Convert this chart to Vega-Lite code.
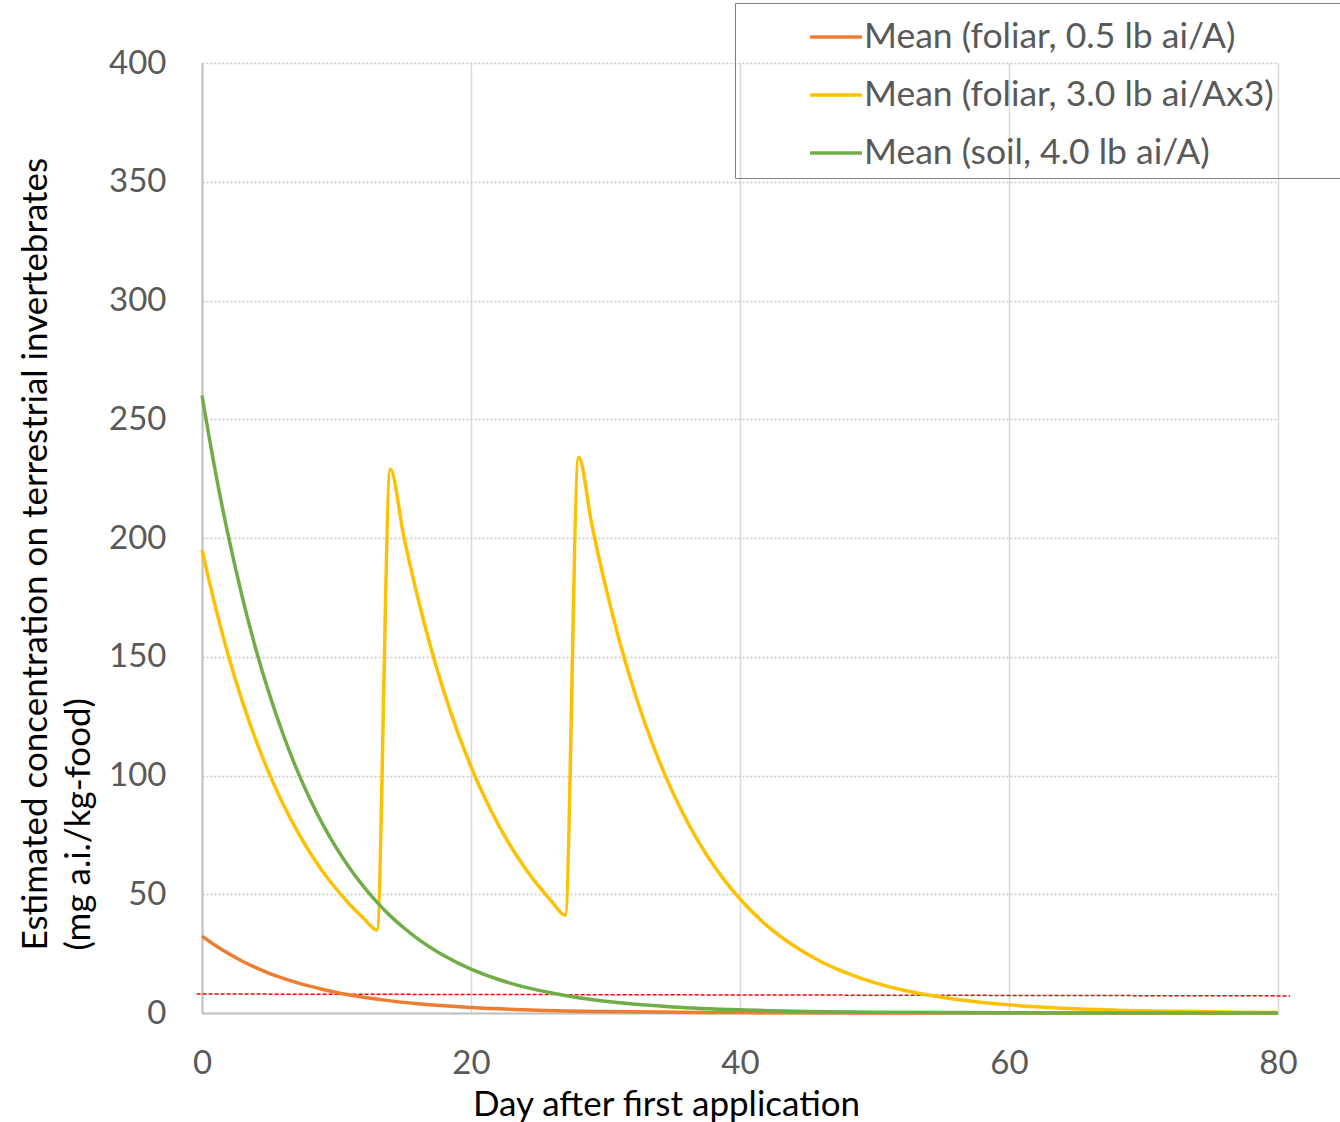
{
"$schema":"https://vega.github.io/schema/vega-lite/v6.json",
"width":1076,"height":950,
"autosize":{"type":"none"},
"padding":{"left":202,"top":63,"right":62,"bottom":109},
"background":"white",
"config":{"view":{"stroke":null},"font":"Lato"},
"datasets":{
"threshold":[{"day":-0.4,"value":8.0},{"day":80.9,"value":7.2}],
"series":[
{"s":"Mean (foliar, 0.5 lb ai/A)","day":0,"value":32.4},{"s":"Mean (foliar, 0.5 lb ai/A)","day":1,"value":28.4},{"s":"Mean (foliar, 0.5 lb ai/A)","day":2,"value":24.9},{"s":"Mean (foliar, 0.5 lb ai/A)","day":3,"value":21.8},{"s":"Mean (foliar, 0.5 lb ai/A)","day":4,"value":19.1},{"s":"Mean (foliar, 0.5 lb ai/A)","day":5,"value":16.7},{"s":"Mean (foliar, 0.5 lb ai/A)","day":6,"value":14.7},{"s":"Mean (foliar, 0.5 lb ai/A)","day":7,"value":12.9},{"s":"Mean (foliar, 0.5 lb ai/A)","day":8,"value":11.3},{"s":"Mean (foliar, 0.5 lb ai/A)","day":9,"value":9.9},{"s":"Mean (foliar, 0.5 lb ai/A)","day":10,"value":8.65},{"s":"Mean (foliar, 0.5 lb ai/A)","day":12,"value":6.64},{"s":"Mean (foliar, 0.5 lb ai/A)","day":14,"value":5.1},{"s":"Mean (foliar, 0.5 lb ai/A)","day":16,"value":3.92},{"s":"Mean (foliar, 0.5 lb ai/A)","day":18,"value":3.01},{"s":"Mean (foliar, 0.5 lb ai/A)","day":20,"value":2.31},{"s":"Mean (foliar, 0.5 lb ai/A)","day":25,"value":1.19},{"s":"Mean (foliar, 0.5 lb ai/A)","day":30,"value":0.62},{"s":"Mean (foliar, 0.5 lb ai/A)","day":35,"value":0.32},{"s":"Mean (foliar, 0.5 lb ai/A)","day":40,"value":0.16},{"s":"Mean (foliar, 0.5 lb ai/A)","day":50,"value":0.04},{"s":"Mean (foliar, 0.5 lb ai/A)","day":60,"value":0.01},{"s":"Mean (foliar, 0.5 lb ai/A)","day":80,"value":0},
{"s":"Mean (foliar, 3.0 lb ai/Ax3)","day":0,"value":195},{"s":"Mean (foliar, 3.0 lb ai/Ax3)","day":1,"value":170.9},{"s":"Mean (foliar, 3.0 lb ai/Ax3)","day":2,"value":149.7},{"s":"Mean (foliar, 3.0 lb ai/Ax3)","day":3,"value":131.2},{"s":"Mean (foliar, 3.0 lb ai/Ax3)","day":4,"value":115.0},{"s":"Mean (foliar, 3.0 lb ai/Ax3)","day":5,"value":100.8},{"s":"Mean (foliar, 3.0 lb ai/Ax3)","day":6,"value":88.3},{"s":"Mean (foliar, 3.0 lb ai/Ax3)","day":7,"value":77.4},{"s":"Mean (foliar, 3.0 lb ai/Ax3)","day":8,"value":67.8},{"s":"Mean (foliar, 3.0 lb ai/Ax3)","day":9,"value":59.4},{"s":"Mean (foliar, 3.0 lb ai/Ax3)","day":10,"value":52.1},{"s":"Mean (foliar, 3.0 lb ai/Ax3)","day":11,"value":45.6},{"s":"Mean (foliar, 3.0 lb ai/Ax3)","day":12,"value":40.0},{"s":"Mean (foliar, 3.0 lb ai/Ax3)","day":13,"value":35.0},{"s":"Mean (foliar, 3.0 lb ai/Ax3)","day":14,"value":229},{"s":"Mean (foliar, 3.0 lb ai/Ax3)","day":15,"value":200.7},{"s":"Mean (foliar, 3.0 lb ai/Ax3)","day":16,"value":175.9},{"s":"Mean (foliar, 3.0 lb ai/Ax3)","day":17,"value":154.1},{"s":"Mean (foliar, 3.0 lb ai/Ax3)","day":18,"value":135.1},{"s":"Mean (foliar, 3.0 lb ai/Ax3)","day":19,"value":118.4},{"s":"Mean (foliar, 3.0 lb ai/Ax3)","day":20,"value":103.7},{"s":"Mean (foliar, 3.0 lb ai/Ax3)","day":21,"value":90.9},{"s":"Mean (foliar, 3.0 lb ai/Ax3)","day":22,"value":79.6},{"s":"Mean (foliar, 3.0 lb ai/Ax3)","day":23,"value":69.8},{"s":"Mean (foliar, 3.0 lb ai/Ax3)","day":24,"value":61.2},{"s":"Mean (foliar, 3.0 lb ai/Ax3)","day":25,"value":53.6},{"s":"Mean (foliar, 3.0 lb ai/Ax3)","day":26,"value":47.0},{"s":"Mean (foliar, 3.0 lb ai/Ax3)","day":27,"value":41.2},{"s":"Mean (foliar, 3.0 lb ai/Ax3)","day":28,"value":234},{"s":"Mean (foliar, 3.0 lb ai/Ax3)","day":29,"value":205.1},{"s":"Mean (foliar, 3.0 lb ai/Ax3)","day":30,"value":179.7},{"s":"Mean (foliar, 3.0 lb ai/Ax3)","day":31,"value":157.5},{"s":"Mean (foliar, 3.0 lb ai/Ax3)","day":32,"value":138.0},{"s":"Mean (foliar, 3.0 lb ai/Ax3)","day":33,"value":120.9},{"s":"Mean (foliar, 3.0 lb ai/Ax3)","day":34,"value":106.0},{"s":"Mean (foliar, 3.0 lb ai/Ax3)","day":35,"value":92.9},{"s":"Mean (foliar, 3.0 lb ai/Ax3)","day":36,"value":81.4},{"s":"Mean (foliar, 3.0 lb ai/Ax3)","day":37,"value":71.3},{"s":"Mean (foliar, 3.0 lb ai/Ax3)","day":38,"value":62.5},{"s":"Mean (foliar, 3.0 lb ai/Ax3)","day":39,"value":54.8},{"s":"Mean (foliar, 3.0 lb ai/Ax3)","day":40,"value":48.0},{"s":"Mean (foliar, 3.0 lb ai/Ax3)","day":42,"value":36.8},{"s":"Mean (foliar, 3.0 lb ai/Ax3)","day":44,"value":28.3},{"s":"Mean (foliar, 3.0 lb ai/Ax3)","day":46,"value":21.7},{"s":"Mean (foliar, 3.0 lb ai/Ax3)","day":48,"value":16.7},{"s":"Mean (foliar, 3.0 lb ai/Ax3)","day":50,"value":12.8},{"s":"Mean (foliar, 3.0 lb ai/Ax3)","day":52,"value":9.8},{"s":"Mean (foliar, 3.0 lb ai/Ax3)","day":54,"value":7.55},{"s":"Mean (foliar, 3.0 lb ai/Ax3)","day":56,"value":5.8},{"s":"Mean (foliar, 3.0 lb ai/Ax3)","day":58,"value":4.45},{"s":"Mean (foliar, 3.0 lb ai/Ax3)","day":60,"value":3.42},{"s":"Mean (foliar, 3.0 lb ai/Ax3)","day":62,"value":2.62},{"s":"Mean (foliar, 3.0 lb ai/Ax3)","day":64,"value":2.01},{"s":"Mean (foliar, 3.0 lb ai/Ax3)","day":66,"value":1.55},{"s":"Mean (foliar, 3.0 lb ai/Ax3)","day":68,"value":1.19},{"s":"Mean (foliar, 3.0 lb ai/Ax3)","day":70,"value":0.91},{"s":"Mean (foliar, 3.0 lb ai/Ax3)","day":72,"value":0.7},{"s":"Mean (foliar, 3.0 lb ai/Ax3)","day":76,"value":0.41},{"s":"Mean (foliar, 3.0 lb ai/Ax3)","day":80,"value":0.24},
{"s":"Mean (soil, 4.0 lb ai/A)","day":0,"value":260},{"s":"Mean (soil, 4.0 lb ai/A)","day":1,"value":227.8},{"s":"Mean (soil, 4.0 lb ai/A)","day":2,"value":199.7},{"s":"Mean (soil, 4.0 lb ai/A)","day":3,"value":175.0},{"s":"Mean (soil, 4.0 lb ai/A)","day":4,"value":153.3},{"s":"Mean (soil, 4.0 lb ai/A)","day":5,"value":134.4},{"s":"Mean (soil, 4.0 lb ai/A)","day":6,"value":117.8},{"s":"Mean (soil, 4.0 lb ai/A)","day":7,"value":103.2},{"s":"Mean (soil, 4.0 lb ai/A)","day":8,"value":90.4},{"s":"Mean (soil, 4.0 lb ai/A)","day":9,"value":79.2},{"s":"Mean (soil, 4.0 lb ai/A)","day":10,"value":69.4},{"s":"Mean (soil, 4.0 lb ai/A)","day":11,"value":60.8},{"s":"Mean (soil, 4.0 lb ai/A)","day":12,"value":53.3},{"s":"Mean (soil, 4.0 lb ai/A)","day":13,"value":46.7},{"s":"Mean (soil, 4.0 lb ai/A)","day":14,"value":40.9},{"s":"Mean (soil, 4.0 lb ai/A)","day":15,"value":35.9},{"s":"Mean (soil, 4.0 lb ai/A)","day":16,"value":31.4},{"s":"Mean (soil, 4.0 lb ai/A)","day":18,"value":24.1},{"s":"Mean (soil, 4.0 lb ai/A)","day":20,"value":18.5},{"s":"Mean (soil, 4.0 lb ai/A)","day":22,"value":14.2},{"s":"Mean (soil, 4.0 lb ai/A)","day":24,"value":10.9},{"s":"Mean (soil, 4.0 lb ai/A)","day":26,"value":8.4},{"s":"Mean (soil, 4.0 lb ai/A)","day":28,"value":6.4},{"s":"Mean (soil, 4.0 lb ai/A)","day":30,"value":4.95},{"s":"Mean (soil, 4.0 lb ai/A)","day":35,"value":2.56},{"s":"Mean (soil, 4.0 lb ai/A)","day":40,"value":1.32},{"s":"Mean (soil, 4.0 lb ai/A)","day":45,"value":0.68},{"s":"Mean (soil, 4.0 lb ai/A)","day":50,"value":0.35},{"s":"Mean (soil, 4.0 lb ai/A)","day":60,"value":0.09},{"s":"Mean (soil, 4.0 lb ai/A)","day":70,"value":0.02},{"s":"Mean (soil, 4.0 lb ai/A)","day":80,"value":0}
]},
"encoding":{
"x":{"field":"day","type":"quantitative","scale":{"domain":[0,80],"nice":false,"zero":false},
"axis":{"title":"Day after first application","values":[0,20,40,60,80],"grid":true,"gridColor":"#d9d9d9","gridWidth":1.5,"domainColor":"#bfbfbf","domainWidth":2,"ticks":false,"labelFlush":false,"labelPadding":34,"labelFontSize":33,"labelColor":"#595959","labelFont":"Lato","titleFont":"Lato","titleFontSize":35,"titleColor":"#000000","titleFontWeight":"normal","titleX":464,"titleY":91,"titleBaseline":"middle","titleAlign":"center"}},
"y":{"field":"value","type":"quantitative","scale":{"domain":[0,400],"nice":false},
"axis":{"title":["Estimated concentration on terrestrial invertebrates","(mg a.i./kg-food)"],"values":[0,50,100,150,200,250,300,350,400],"grid":true,"gridDash":[2,2],"gridColor":"#c8c8c8","gridWidth":1.3,"domainColor":"#bfbfbf","domainWidth":2,"ticks":false,"labelFlush":false,"labelPadding":36,"labelFontSize":33,"labelColor":"#595959","labelFont":"Lato","titleFont":"Lato","titleFontSize":35,"titleColor":"#000000","titleFontWeight":"normal","titleAngle":-90,"titleAlign":"left","titleBaseline":"middle","titleX":-166.5,"titleY":887,"titleLineHeight":43}}
},
"layer":[
{"data":{"name":"threshold"},"mark":{"type":"line","color":"#ff0000","strokeWidth":1.5,"strokeDash":[4,2],"clip":false}},
{"data":{"name":"series"},"mark":{"type":"line","strokeWidth":3.5,"interpolate":"monotone"},
"encoding":{"color":{"field":"s","type":"nominal","sort":null,
"scale":{"domain":["Mean (foliar, 0.5 lb ai/A)","Mean (foliar, 3.0 lb ai/Ax3)","Mean (soil, 4.0 lb ai/A)"],"range":["#ED7D31","#FFC000","#70AD47"]},
"legend":{"orient":"none","legendX":533,"legendY":-60,"title":null,"strokeColor":"#7f7f7f","padding":6,"symbolType":"stroke","symbolSize":2700,"symbolStrokeWidth":3.5,"symbolOffset":67,"labelOffset":0,"labelFontSize":35.5,"labelFont":"Lato","labelColor":"#595959","rowPadding":11,"labelLimit":0,"labelExpr":"datum.label + '\u00a0\u00a0\u00a0\u00a0\u00a0\u00a0\u00a0\u00a0\u00a0\u200b'"}}}}
]
}
